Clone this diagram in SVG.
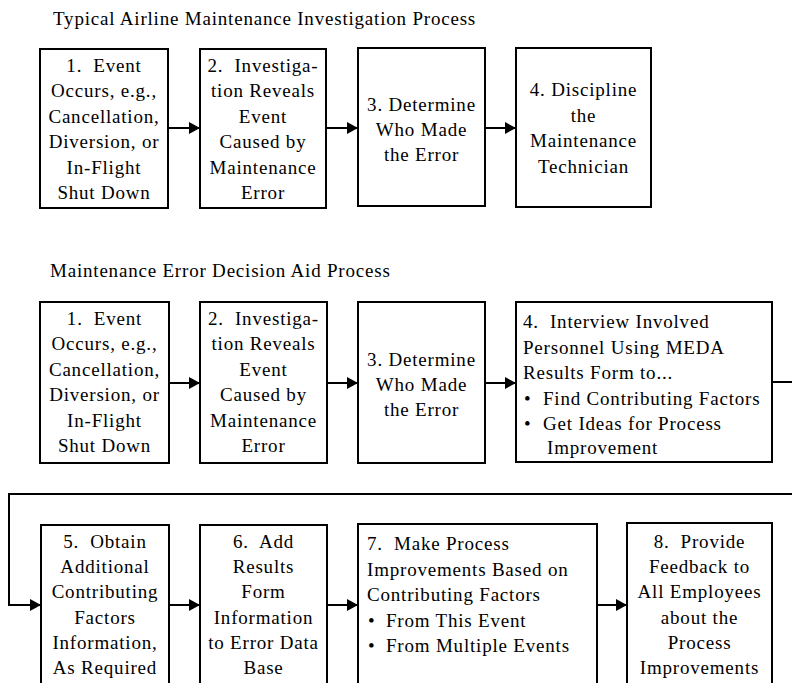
<svg xmlns="http://www.w3.org/2000/svg" width="792" height="683" viewBox="0 0 792 683">
<style>
  .box { fill: #fff; stroke: #000; stroke-width: 2; }
  .t { font-family: "Liberation Serif", "Times New Roman", serif; font-size: 19px; letter-spacing: 0.8px; fill: #000; white-space: pre; }
  .c { text-anchor: middle; }
  .conn { fill: none; stroke: #000; stroke-width: 2; }
</style>
<defs>
  <marker id="arr" markerUnits="userSpaceOnUse" markerWidth="11" markerHeight="12" refX="11" refY="6" orient="auto">
    <path d="M0,0 L11,6 L0,12 z" fill="#000"/>
  </marker>
</defs>
<rect width="792" height="683" fill="#fff"/>

<text class="t" x="53" y="25">Typical Airline Maintenance Investigation Process</text>
<text class="t" x="50" y="277">Maintenance Error Decision Aid Process</text>

<g id="connectors">
  <path class="conn" d="M168,128 H200" marker-end="url(#arr)"/>
  <path class="conn" d="M326,128 H358" marker-end="url(#arr)"/>
  <path class="conn" d="M485,128 H516" marker-end="url(#arr)"/>
  <path class="conn" d="M169,383 H200" marker-end="url(#arr)"/>
  <path class="conn" d="M327,383 H358" marker-end="url(#arr)"/>
  <path class="conn" d="M485,383 H516" marker-end="url(#arr)"/>
  <path class="conn" d="M772,382 H792"/>
  <path class="conn" d="M793,494 H9 V605 H41" marker-end="url(#arr)"/>
  <path class="conn" d="M169,605 H200" marker-end="url(#arr)"/>
  <path class="conn" d="M327,605 H358" marker-end="url(#arr)"/>
  <path class="conn" d="M597,605 H627" marker-end="url(#arr)"/>
</g>

<g id="t1">
  <rect class="box" x="40" y="49" width="128" height="159"/>
  <text class="t c" x="104" y="72">1.  Event</text>
  <text class="t c" x="104" y="97.4">Occurs, e.g.,</text>
  <text class="t c" x="104" y="122.8">Cancellation,</text>
  <text class="t c" x="104" y="148.2">Diversion, or</text>
  <text class="t c" x="104" y="173.6">In-Flight</text>
  <text class="t c" x="104" y="199">Shut Down</text>
</g>
<g id="t2">
  <rect class="box" x="200" y="49" width="126" height="159"/>
  <text class="t c" x="263" y="72">2.  Investiga-</text>
  <text class="t c" x="263" y="97.4">tion Reveals</text>
  <text class="t c" x="263" y="122.8">Event</text>
  <text class="t c" x="263" y="148.2">Caused by</text>
  <text class="t c" x="263" y="173.6">Maintenance</text>
  <text class="t c" x="263" y="199">Error</text>
</g>
<g id="t3">
  <rect class="box" x="358" y="48" width="127" height="158"/>
  <text class="t c" x="421.5" y="111">3. Determine</text>
  <text class="t c" x="421.5" y="136">Who Made</text>
  <text class="t c" x="421.5" y="161">the Error</text>
</g>
<g id="t4">
  <rect class="box" x="516" y="48" width="135" height="159"/>
  <text class="t c" x="583.5" y="96">4. Discipline</text>
  <text class="t c" x="583.5" y="121.5">the</text>
  <text class="t c" x="583.5" y="147">Maintenance</text>
  <text class="t c" x="583.5" y="172.5">Technician</text>
</g>

<g id="m1">
  <rect class="box" x="40" y="302" width="129" height="161"/>
  <text class="t c" x="104.5" y="325">1.  Event</text>
  <text class="t c" x="104.5" y="350.4">Occurs, e.g.,</text>
  <text class="t c" x="104.5" y="375.8">Cancellation,</text>
  <text class="t c" x="104.5" y="401.2">Diversion, or</text>
  <text class="t c" x="104.5" y="426.6">In-Flight</text>
  <text class="t c" x="104.5" y="452">Shut Down</text>
</g>
<g id="m2">
  <rect class="box" x="200" y="302" width="127" height="161"/>
  <text class="t c" x="263.5" y="325">2.  Investiga-</text>
  <text class="t c" x="263.5" y="350.4">tion Reveals</text>
  <text class="t c" x="263.5" y="375.8">Event</text>
  <text class="t c" x="263.5" y="401.2">Caused by</text>
  <text class="t c" x="263.5" y="426.6">Maintenance</text>
  <text class="t c" x="263.5" y="452">Error</text>
</g>
<g id="m3">
  <rect class="box" x="358" y="302" width="127" height="161"/>
  <text class="t c" x="421.5" y="366">3. Determine</text>
  <text class="t c" x="421.5" y="391">Who Made</text>
  <text class="t c" x="421.5" y="416">the Error</text>
</g>
<g id="m4">
  <rect class="box" x="516" y="302" width="256" height="160"/>
  <text class="t" x="523" y="328">4.  Interview Involved</text>
  <text class="t" x="523" y="353.5">Personnel Using MEDA</text>
  <text class="t" x="523" y="379">Results Form to...</text>
  <text class="t" x="524" y="404.5">•</text>
  <text class="t" x="543" y="404.5">Find Contributing Factors</text>
  <text class="t" x="524" y="430">•</text>
  <text class="t" x="543" y="430">Get Ideas for Process</text>
  <text class="t" x="547" y="454">Improvement</text>
</g>

<g id="b5">
  <rect class="box" x="41" y="525" width="128" height="170"/>
  <text class="t c" x="105" y="548">5.  Obtain</text>
  <text class="t c" x="105" y="573.2">Additional</text>
  <text class="t c" x="105" y="598.4">Contributing</text>
  <text class="t c" x="105" y="623.6">Factors</text>
  <text class="t c" x="105" y="648.8">Information,</text>
  <text class="t c" x="105" y="674">As Required</text>
</g>
<g id="b6">
  <rect class="box" x="200" y="525" width="127" height="170"/>
  <text class="t c" x="263.5" y="548">6.  Add</text>
  <text class="t c" x="263.5" y="573.2">Results</text>
  <text class="t c" x="263.5" y="598.4">Form</text>
  <text class="t c" x="263.5" y="623.6">Information</text>
  <text class="t c" x="263.5" y="648.8">to Error Data</text>
  <text class="t c" x="263.5" y="674">Base</text>
</g>
<g id="b7">
  <rect class="box" x="358" y="524" width="239" height="170"/>
  <text class="t" x="367" y="550">7.  Make Process</text>
  <text class="t" x="367" y="575.5">Improvements Based on</text>
  <text class="t" x="367" y="601">Contributing Factors</text>
  <text class="t" x="368" y="626.5">•</text>
  <text class="t" x="386" y="626.5">From This Event</text>
  <text class="t" x="368" y="652">•</text>
  <text class="t" x="386" y="652">From Multiple Events</text>
</g>
<g id="b8">
  <rect class="box" x="627" y="523" width="145" height="170"/>
  <text class="t c" x="699.5" y="548">8.  Provide</text>
  <text class="t c" x="699.5" y="573.2">Feedback to</text>
  <text class="t c" x="699.5" y="598.4">All Employees</text>
  <text class="t c" x="699.5" y="623.6">about the</text>
  <text class="t c" x="699.5" y="648.8">Process</text>
  <text class="t c" x="699.5" y="674">Improvements</text>
</g>
</svg>
